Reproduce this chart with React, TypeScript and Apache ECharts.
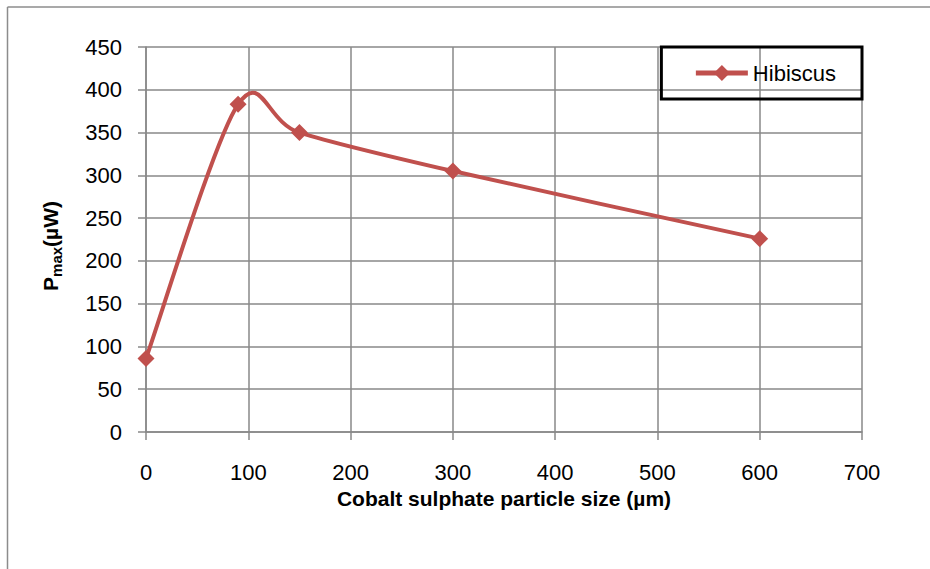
import React, { useEffect, useRef } from "react";
import * as echarts from "echarts";

const particleSize = [0, 90, 150, 300, 600];
const pmax = [86, 383, 350, 305, 226];
const seriesName = "Hibiscus";
const xTitle = "Cobalt sulphate particle size (µm)";

const FONT = "'Liberation Sans', Arial, sans-serif";
const GRID = "#888888";
const RED = "#C0504D";

// Excel-like smoothed curve (Catmull-Rom in pixel space) through the data points,
// positioned through the chart's own coordinate system.
function smoothPath(pts: number[][]): string {
  if (!pts.length) return "";
  const k = 1 / 6.5;
  let d = `M${pts[0][0]},${pts[0][1]}`;
  for (let i = 0; i < pts.length - 1; i++) {
    const p0 = pts[i - 1] || pts[i];
    const p1 = pts[i];
    const p2 = pts[i + 1];
    const p3 = pts[i + 2] || pts[i + 1];
    const c1x = p1[0] + (p2[0] - p0[0]) * k;
    const c1y = p1[1] + (p2[1] - p0[1]) * k;
    const c2x = p2[0] - (p3[0] - p1[0]) * k;
    const c2y = p2[1] - (p3[1] - p1[1]) * k;
    d += ` C${c1x},${c1y} ${c2x},${c2y} ${p2[0]},${p2[1]}`;
  }
  return d;
}

export default function App() {
  const ref = useRef<HTMLDivElement>(null);
  useEffect(() => {
    if (!ref.current) return;
    const chart = echarts.init(ref.current, null, { renderer: "svg" });
    const data = particleSize.map((x, i) => [x, pmax[i]]);
    chart.setOption({
      animation: false,
      backgroundColor: "#ffffff",
      textStyle: { fontFamily: FONT },
      grid: { left: 146, right: 68, top: 47, bottom: 137, containLabel: false },
      legend: {
        right: 68,
        top: 47,
        padding: [15, 26, 15, 32],
        borderColor: "#000",
        borderWidth: 3,
        itemWidth: 52,
        itemHeight: 20,
        itemGap: 5,
        lineStyle: { color: RED, width: 5, opacity: 1 },
        textStyle: { fontFamily: FONT, fontSize: 22, color: "#000" },
        data: [seriesName],
      },
      xAxis: {
        type: "value",
        min: 0,
        max: 700,
        interval: 100,
        name: xTitle,
        nameLocation: "middle",
        nameGap: 56,
        nameTextStyle: { fontFamily: FONT, fontSize: 21, fontWeight: "bold", color: "#000" },
        axisLine: { show: true, lineStyle: { color: GRID, width: 1.5 } },
        axisTick: { show: true, length: 8, lineStyle: { color: GRID, width: 1.5 } },
        axisLabel: { fontFamily: FONT, fontSize: 22, color: "#000", margin: 29 },
        splitLine: { show: true, lineStyle: { color: GRID, width: 1.5 } },
      },
      yAxis: {
        type: "value",
        min: 0,
        max: 450,
        interval: 50,
        axisLine: { show: true, lineStyle: { color: GRID, width: 1.5 } },
        axisTick: { show: true, length: 8, lineStyle: { color: GRID, width: 1.5 } },
        axisLabel: { fontFamily: FONT, fontSize: 22, color: "#000", margin: 24 },
        splitLine: { show: true, lineStyle: { color: GRID, width: 1.5 } },
      },
      graphic: [
        {
          type: "line",
          shape: { x1: 7.5, y1: 7, x2: 930, y2: 7 },
          style: { stroke: "#8c8c8c", lineWidth: 1.5 },
        },
        {
          type: "line",
          shape: { x1: 7.5, y1: 7, x2: 7.5, y2: 569 },
          style: { stroke: "#8c8c8c", lineWidth: 1.5 },
        },
        {
          type: "text",
          x: 52,
          y: 246,
          rotation: Math.PI / 2,
          style: {
            text: "{b|P}{s|max}{b|(µW)}",
            align: "center",
            verticalAlign: "middle",
            fill: "#000",
            rich: {
              b: { fontFamily: FONT, fontSize: 21, fontWeight: "bold", lineHeight: 24, verticalAlign: "top", fill: "#000" },
              s: { fontFamily: FONT, fontSize: 15, fontWeight: "bold", lineHeight: 18, padding: [12, 0, 0, 0], verticalAlign: "bottom", fill: "#000" },
            },
          },
        },
      ],
      series: [
        {
          name: "curve",
          type: "custom",
          silent: true,
          z: 2,
          data: data,
          renderItem: (params: any, api: any) => {
            if (params.dataIndex !== 0) return null;
            const pts = data.map((p) => api.coord(p));
            return {
              type: "path",
              shape: { pathData: smoothPath(pts) },
              style: { fill: "none", stroke: RED, lineWidth: 4, lineJoin: "round", lineCap: "round" },
            };
          },
        },
        {
          name: seriesName,
          type: "line",
          z: 3,
          data: data,
          symbol: "diamond",
          symbolSize: 17,
          lineStyle: { color: RED, width: 4, opacity: 0 },
          itemStyle: { color: RED },
        },
      ],
    });
    return () => chart.dispose();
  }, []);
  return (
    <div
      ref={ref}
      style={{ position: "fixed", left: 0, top: 0, width: 930, height: 569 }}
    />
  );
}
